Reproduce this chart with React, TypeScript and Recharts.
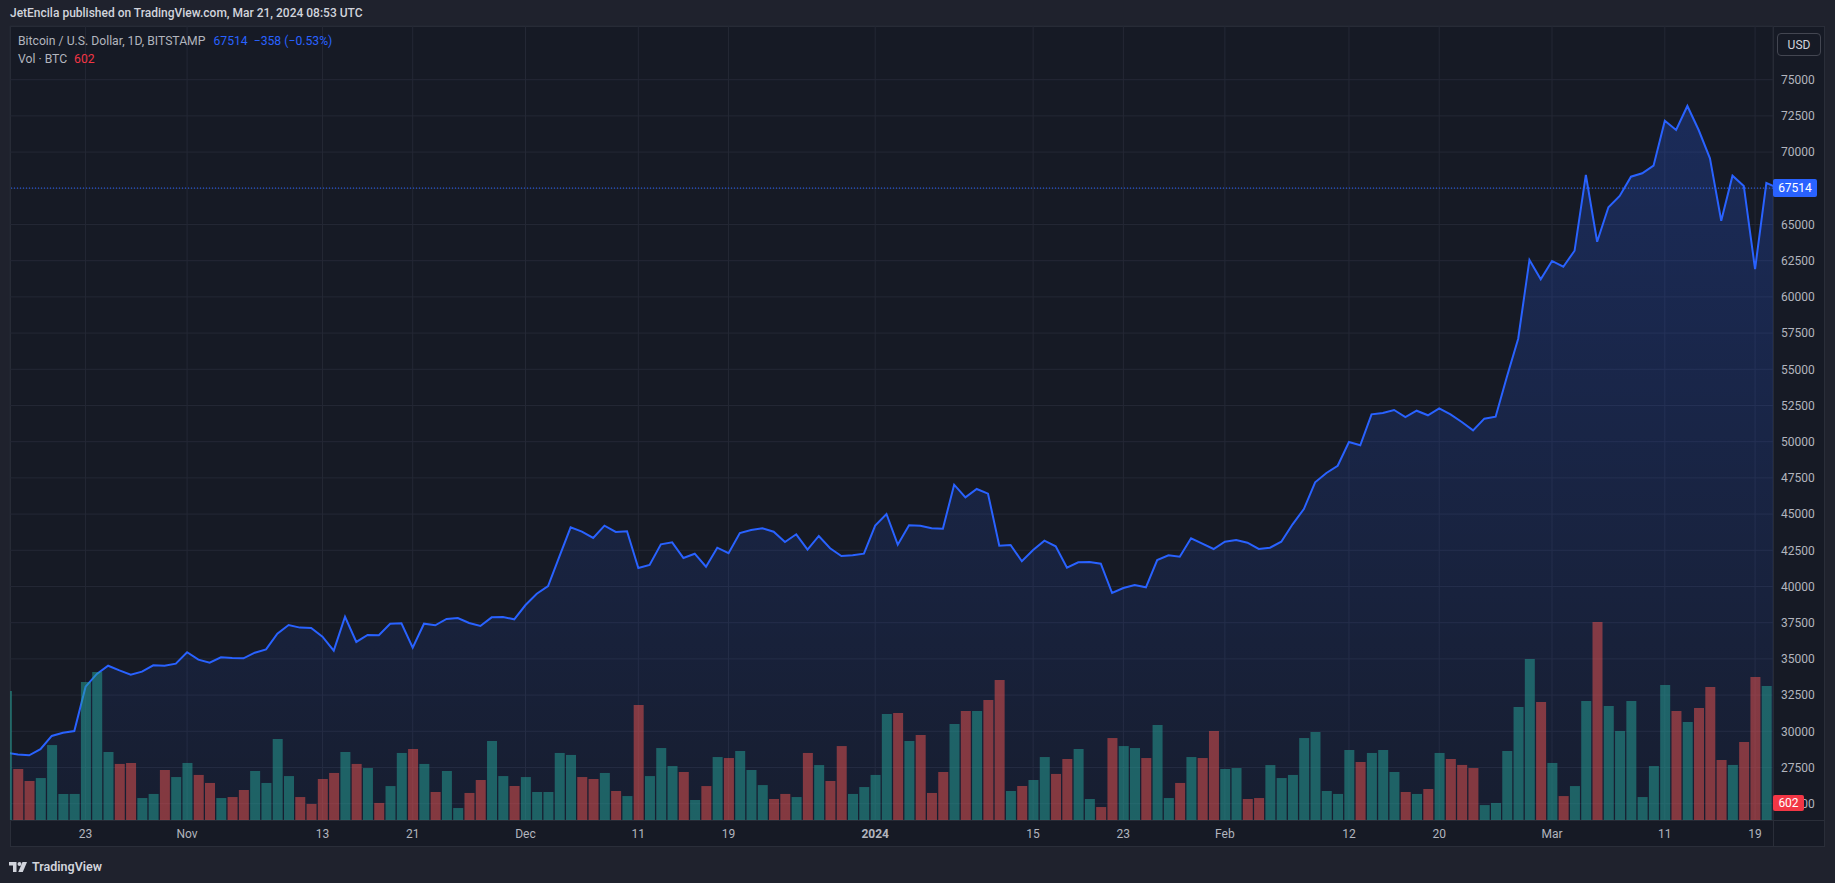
import { ComposedChart, Area, Bar, Cell, XAxis, YAxis, CartesianGrid, ReferenceLine } from 'recharts';

// Daily closes, BTC/USD on Bitstamp, Oct 16 2023 (index 0) to Mar 21 2024 (index 157).
const closes = [
  28520, 28400, 28340, 28760, 29680, 29900, 30020, 33080, 33960, 34530,
  34210, 33910, 34120, 34560, 34530, 34670, 35460, 34950, 34740, 35110,
  35060, 35040, 35430, 35660, 36740, 37340, 37160, 37130, 36530, 35570,
  37910, 36170, 36650, 36630, 37430, 37460, 35770, 37430, 37320, 37760,
  37825, 37480, 37270, 37870, 37890, 37735, 38720, 39500, 40030, 42060,
  44090, 43785, 43350, 44200, 43765, 43810, 41280, 41485, 42915, 43050,
  41970, 42265, 41365, 42680, 42295, 43695, 43900, 44020, 43785, 43075,
  43605, 42540, 43490, 42640, 42105, 42155, 42265, 44200, 45005, 42890,
  44225, 44200, 44020, 43990, 47030, 46160, 46735, 46410, 42820, 42865,
  41740, 42520, 43165, 42775, 41300, 41670, 41690, 41575, 39550, 39895,
  40105, 39945, 41830, 42155, 42060, 43330, 42955, 42590, 43095, 43210,
  43025, 42590, 42680, 43095, 44295, 45350, 47195, 47840, 48340, 49980,
  49750, 51890, 51980, 52190, 51705, 52140, 51825, 52305, 51890, 51360,
  50785, 51590, 51725, 54490, 57115, 62550, 61215, 62480, 62085, 63190,
  68420, 63810, 66190, 66970, 68300, 68535, 69060, 72170, 71525, 73185,
  71525, 69570, 65260, 68370, 67660, 61925, 67872, 67514,
];

// Daily volume in BTC, same days.
const volumes = [
  4580, 1810, 1385, 1490, 2660, 925, 925, 4900, 5255, 2415,
  1990, 2025, 780, 925, 1775, 1525, 2025, 1600, 1315, 780,
  815, 1065, 1740, 1315, 2875, 1560, 815, 570, 1455, 1670,
  2415, 1990, 1845, 605, 1205, 2380, 2520, 1990, 995, 1740,
  425, 960, 1420, 2805, 1560, 1205, 1525, 995, 995, 2380,
  2310, 1525, 1455, 1670, 1030, 850, 4085, 1560, 2555, 1915,
  1705, 710, 1205, 2235, 2200, 2450, 1775, 1240, 745, 925,
  815, 2380, 1950, 1385, 2625, 925, 1170, 1600, 3765, 3800,
  2805, 3020, 960, 1705, 3410, 3870, 3870, 4260, 4970, 1030,
  1205, 1420, 2235, 1635, 2165, 2520, 745, 460, 2910, 2625,
  2555, 2200, 3370, 780, 1315, 2235, 2200, 3160, 1810, 1845,
  745, 780, 1950, 1490, 1600, 2910, 3125, 1030, 925, 2485,
  2060, 2380, 2485, 1705, 995, 925, 1100, 2380, 2165, 1955,
  1845, 530, 605, 2450, 4010, 5715, 4190, 2025, 850, 1205,
  4225, 7030, 4045, 3160, 4225, 815, 1915, 4790, 3870, 3480,
  3975, 4720, 2130, 1955, 2770, 5075, 4755, 602,
];

// Time axis: day index -> label
const dateTicks = [7, 16, 28, 36, 46, 56, 64, 77, 91, 99, 108, 119, 127, 137, 147, 155];
const dateLabels = ['23', 'Nov', '13', '21', 'Dec', '11', '19', '2024', '15', '23', 'Feb', '12', '20', 'Mar', '11', '19'];

const priceTicks = [
  25000, 27500, 30000, 32500, 35000, 37500, 40000, 42500, 45000, 47500,
  50000, 52500, 55000, 57500, 60000, 62500, 65000, 67500, 70000, 72500, 75000,
];

const LAST_PRICE = 67514;
const LAST_VOL = 602;

const FONT = 'Roboto, "Noto Sans", sans-serif';
const PAGE_BG = '#1f222d';
const CHART_BG = '#161a25';
const LINE = '#2a2e39';
const GRID = '#242835';
const TEXT = '#b2b5be';
const BLUE = '#2962ff';
const RED = '#f23645';

// shared geometry of the two stacked svg layers
const W = 1835;
const H = 883;
const MARGIN = { top: 26, right: 10, bottom: 36, left: 10 };
const X_DOMAIN: [number, number] = [0.3, 156.59];
const P_DOMAIN: [number, number] = [23874, 78708];
const V_DOMAIN: [number, number] = [0, 28187];

const rows = closes.map((c, i) => ({
  i,
  close: c,
  vol: volumes[i],
  up: i === 0 || c >= closes[i - 1],
}));

function DateTick({ x, y, payload }: any) {
  const label = dateLabels[dateTicks.indexOf(payload.value)] ?? '';
  return (
    <text x={x} y={y} dy="0.71em" textAnchor="middle" fill={TEXT} fontSize={12}
      fontFamily={FONT} fontWeight={label === '2024' ? 700 : 400}>
      {label}
    </text>
  );
}

function Tag({ viewBox, text, bg, w, h }: any) {
  const left = viewBox.x + viewBox.width;
  const y = viewBox.y;
  return (
    <g>
      <rect x={left} y={y - h / 2} width={w} height={h} rx={2} fill={bg} />
      <text x={left + w / 2} y={y} dy="0.36em" textAnchor="middle" fill="#ffffff"
        fontSize={12} fontFamily={FONT}>
        {text}
      </text>
    </g>
  );
}

function TvLogo() {
  return (
    <svg width={18} height={12} viewBox="0 0 18 12">
      <path d="M0 1h7.5v10H4V4.5H0z" fill="#d1d4dc" />
      <circle cx={10.5} cy={3} r={2} fill="#d1d4dc" />
      <path d="M13.5 1H18l-4.2 10H9.3z" fill="#d1d4dc" />
    </svg>
  );
}

// Same axes as the main chart, nothing drawn but the last-value tags,
// so the tags sit above the price scale labels like in TradingView.
function TagLayer() {
  return (
    <ComposedChart width={W} height={H} data={rows} margin={MARGIN}>
      <XAxis dataKey="i" type="number" domain={X_DOMAIN} allowDataOverflow height={27} tick={false} axisLine={false} tickLine={false} />
      <YAxis yAxisId="p" orientation="right" type="number" domain={P_DOMAIN} allowDataOverflow width={52} tick={false} axisLine={false} tickLine={false} />
      <YAxis yAxisId="v" hide domain={V_DOMAIN} allowDataOverflow />
      <ReferenceLine
        yAxisId="p"
        y={LAST_PRICE}
        stroke="none"
        label={(props: any) => <Tag {...props} text={String(LAST_PRICE)} bg={BLUE} w={44} h={18} />}
      />
      <ReferenceLine
        yAxisId="v"
        y={LAST_VOL}
        stroke="none"
        label={(props: any) => <Tag {...props} text={String(LAST_VOL)} bg={RED} w={31} h={16} />}
      />
    </ComposedChart>
  );
}

export default function App() {
  return (
    <div style={{ position: 'fixed', left: 0, top: 0, width: W, height: H, background: PAGE_BG, fontFamily: FONT, overflow: 'hidden' }}>
      <div style={{ position: 'absolute', left: 10, top: 6, fontSize: 12, fontWeight: 500, color: '#d1d4dc', whiteSpace: 'nowrap' }}>
        JetEncila published on TradingView.com, Mar 21, 2024 08:53 UTC
      </div>

      {/* chart panel + separators */}
      <div style={{ position: 'absolute', left: 10, top: 26, width: 1815, height: 821, background: CHART_BG, border: `1px solid ${LINE}`, boxSizing: 'border-box' }} />
      <div style={{ position: 'absolute', left: 1773, top: 26, width: 1, height: 821, background: LINE }} />
      <div style={{ position: 'absolute', left: 10, top: 820, width: 1815, height: 1, background: LINE }} />

      <div style={{ position: 'absolute', left: 0, top: 0 }}>
        <ComposedChart width={W} height={H} data={rows} margin={MARGIN}>
          <defs>
            <linearGradient id="areaFill" x1="0" y1="0" x2="0" y2="1">
              <stop offset="0%" stopColor={BLUE} stopOpacity={0.24} />
              <stop offset="100%" stopColor={BLUE} stopOpacity={0.05} />
            </linearGradient>
          </defs>
          <CartesianGrid yAxisId="p" stroke={GRID} strokeWidth={1} />
          <XAxis
            dataKey="i"
            type="number"
            domain={X_DOMAIN}
            allowDataOverflow
            ticks={dateTicks}
            interval={0}
            height={27}
            axisLine={false}
            tickLine={false}
            tickSize={0}
            tickMargin={9}
            tick={<DateTick />}
          />
          <YAxis
            yAxisId="p"
            orientation="right"
            type="number"
            domain={P_DOMAIN}
            allowDataOverflow
            ticks={priceTicks}
            interval={0}
            width={52}
            axisLine={false}
            tickLine={false}
            tickSize={0}
            tickMargin={8}
            tick={{ fill: TEXT, fontSize: 12, fontFamily: FONT }}
          />
          <YAxis yAxisId="v" hide domain={V_DOMAIN} allowDataOverflow />
          <Bar yAxisId="v" dataKey="vol" barSize={10} isAnimationActive={false}>
            {rows.map((r) => (
              <Cell key={r.i} fill={r.up ? 'rgba(38,166,154,0.5)' : 'rgba(239,83,80,0.5)'} />
            ))}
          </Bar>
          <Area
            yAxisId="p"
            type="linear"
            dataKey="close"
            stroke={BLUE}
            strokeWidth={2}
            fill="url(#areaFill)"
            fillOpacity={1}
            dot={false}
            activeDot={false}
            isAnimationActive={false}
          />
          <ReferenceLine yAxisId="p" y={LAST_PRICE} stroke={BLUE} strokeWidth={1} strokeDasharray="1 2" />
        </ComposedChart>
      </div>

      <div style={{ position: 'absolute', left: 0, top: 0 }}>
        <TagLayer />
      </div>

      {/* legend */}
      <div style={{ position: 'absolute', left: 18, top: 34, fontSize: 12.2, color: TEXT, whiteSpace: 'nowrap' }}>
        Bitcoin / U.S. Dollar, 1D, BITSTAMP
        <span style={{ color: BLUE, marginLeft: 8 }}>{LAST_PRICE}</span>
        <span style={{ color: BLUE, marginLeft: 6 }}>−358 (−0.53%)</span>
      </div>
      <div style={{ position: 'absolute', left: 18, top: 52, fontSize: 12.2, color: TEXT, whiteSpace: 'nowrap' }}>
        Vol · BTC
        <span style={{ color: RED, marginLeft: 7 }}>{LAST_VOL}</span>
      </div>

      {/* currency button */}
      <div style={{ position: 'absolute', left: 1777, top: 33, width: 44, height: 23, boxSizing: 'border-box', border: '1px solid #434651', borderRadius: 4, color: '#d1d4dc', fontSize: 12, display: 'flex', alignItems: 'center', justifyContent: 'center' }}>
        USD
      </div>

      {/* footer */}
      <div style={{ position: 'absolute', left: 9, top: 859, display: 'flex', alignItems: 'center', gap: 5, color: '#d1d4dc', fontSize: 12.5, fontWeight: 600 }}>
        <TvLogo />
        <span>TradingView</span>
      </div>
    </div>
  );
}
